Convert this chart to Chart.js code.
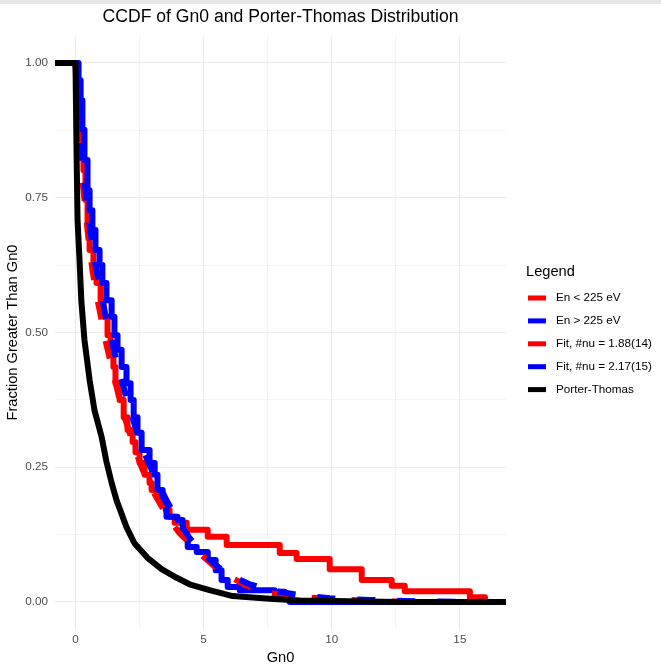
<!DOCTYPE html>
<html lang="en">
<head>
<meta charset="UTF-8">
<script src="https://cdn.jsdelivr.net/npm/chart.js"></script>
<title>CCDF of Gn0</title>
<style>
  body { margin: 0; background: #fff; }
  #wrap { position: relative; width: 661px; height: 667px; }
  #topbar { position: absolute; left: 0; top: 0; width: 661px; height: 4px; background: #e6e6e6; }
</style>
</head>
<body>
<div id="wrap">
  <canvas id="ccdfChart"></canvas>
  <div id="topbar"></div>
</div>
<script>
// values
const titleText = 'CCDF of Gn0 and Porter-Thomas Distribution';
const legendTitle = 'Legend';
const seriesLabels = ['En < 225 eV', 'En > 225 eV', 'Fit, #nu = 1.88(14)', 'Fit, #nu = 2.17(15)', 'Porter-Thomas'];

const redStepX = [-0.9, 0, 0.08, 0.16, 0.23, 0.31, 0.39, 0.47, 0.55, 0.70, 0.82, 0.98, 1.09, 1.25, 1.37, 1.48, 1.56, 1.72, 1.88, 2.03, 2.23, 2.34, 2.50, 2.70, 2.89, 2.97, 3.28, 3.52, 3.67, 3.87, 4.34, 5.16, 5.90, 7.97, 8.63, 9.92, 11.17, 12.34, 12.85, 15.39, 15.98, 16.9];
const redStepY = [1, 1, 0.950, 0.904, 0.857, 0.801, 0.746, 0.699, 0.653, 0.616, 0.592, 0.560, 0.529, 0.495, 0.468, 0.436, 0.406, 0.375, 0.343, 0.319, 0.297, 0.278, 0.258, 0.236, 0.221, 0.208, 0.189, 0.171, 0.158, 0.147, 0.134, 0.121, 0.106, 0.091, 0.080, 0.061, 0.041, 0.030, 0.020, 0.009, 0, 0];

const blueStepX = [-0.9, 0, 0.12, 0.20, 0.27, 0.35, 0.47, 0.55, 0.66, 0.78, 0.94, 1.05, 1.21, 1.41, 1.52, 1.64, 1.80, 1.99, 2.15, 2.27, 2.42, 2.58, 2.89, 3.09, 3.20, 3.40, 3.55, 3.98, 4.18, 4.38, 4.73, 5.16, 5.47, 5.70, 5.94, 6.41, 7.77, 8.16, 8.36, 16.9];
const blueStepY = [1, 1, 0.968, 0.931, 0.876, 0.820, 0.764, 0.727, 0.690, 0.653, 0.625, 0.592, 0.560, 0.529, 0.495, 0.468, 0.436, 0.406, 0.375, 0.343, 0.314, 0.282, 0.258, 0.236, 0.208, 0.180, 0.158, 0.152, 0.124, 0.102, 0.093, 0.078, 0.059, 0.041, 0.028, 0.022, 0.019, 0.009, 0, 0];

const redFitX = [0, 0.04, 0.12, 0.20, 0.27, 0.39, 0.51, 0.66, 0.82, 1.02, 1.21, 1.45, 1.68, 1.95, 2.27, 2.58, 2.89, 3.28, 3.67, 4.06, 4.53, 5.04, 5.55, 6.09, 6.80, 7.58, 8.75, 9.92, 11.48, 13.44, 16.9];
const redFitY = [1, 0.950, 0.894, 0.839, 0.783, 0.727, 0.672, 0.616, 0.570, 0.523, 0.477, 0.430, 0.384, 0.338, 0.291, 0.250, 0.217, 0.184, 0.152, 0.128, 0.106, 0.082, 0.061, 0.045, 0.028, 0.017, 0.009, 0.006, 0.002, 0, 0];

const blueFitX = [0, 0.08, 0.16, 0.27, 0.35, 0.47, 0.63, 0.78, 0.98, 1.17, 1.41, 1.64, 1.91, 2.19, 2.50, 2.81, 3.16, 3.55, 3.98, 4.45, 4.96, 5.51, 6.09, 6.80, 7.58, 8.75, 9.92, 11.48, 13.44, 16.9];
const blueFitY = [1, 0.950, 0.894, 0.839, 0.783, 0.727, 0.672, 0.625, 0.579, 0.532, 0.486, 0.440, 0.393, 0.347, 0.301, 0.263, 0.226, 0.189, 0.152, 0.119, 0.091, 0.067, 0.048, 0.033, 0.022, 0.013, 0.007, 0.004, 0.001, 0];

const ptX = [-0.9, 0, 0.04, 0.08, 0.16, 0.23, 0.35, 0.55, 0.74, 1.02, 1.21, 1.41, 1.60, 1.99, 2.30, 2.81, 3.36, 3.95, 4.45, 5.23, 6.13, 7.58, 8.75, 10.70, 12.66, 16.9];
const ptY = [1, 1, 0.839, 0.709, 0.631, 0.557, 0.486, 0.412, 0.356, 0.306, 0.260, 0.221, 0.189, 0.139, 0.109, 0.082, 0.061, 0.045, 0.033, 0.022, 0.011, 0.006, 0.003, 0.0013, 0, 0];

const xTicks = [0, 2.5, 5, 7.5, 10, 12.5, 15];
const xTickLabels = ['0', '', '5', '', '10', '', '15'];
const yTicks = [0, 0.125, 0.25, 0.375, 0.5, 0.625, 0.75, 0.875, 1];
const yTickLabels = ['0.00', '', '0.25', '', '0.50', '', '0.75', '', '1.00'];

const FONT = '"Liberation Sans", Arial, sans-serif';

function pts(xs, ys) {
    return xs.map((x, i) => ({ x: x, y: ys[i] }));
}

function lineSet(label, xs, ys, color, order, opts) {
    return Object.assign({
        label: label,
        data: pts(xs, ys),
        borderColor: color,
        backgroundColor: color,
        borderWidth: 6,
        pointRadius: 0,
        tension: 0,
        borderCapStyle: 'butt',
        borderJoinStyle: 'round',
        clip: 0,
        order: order
    }, opts || {});
}

// title and legend are drawn by hand so they sit where ggplot put them
const overlay = {
    id: 'overlay',
    afterDraw(chart) {
        const { ctx, chartArea } = chart;
        ctx.save();
        ctx.fillStyle = '#000';
        ctx.textBaseline = 'middle';
        ctx.textAlign = 'center';
        ctx.font = '17.6px ' + FONT;
        ctx.fillText(titleText, (chartArea.left + chartArea.right) / 2, 17);

        ctx.textAlign = 'left';
        ctx.font = '14.67px ' + FONT;
        ctx.fillText(legendTitle, 526, 272);

        ctx.font = '11.7px ' + FONT;
        chart.data.datasets.forEach((ds, i) => {
            const y = 298 + i * 22.9;
            ctx.fillStyle = ds.borderColor;
            ctx.fillRect(528, y - 2.5, 18, 5);
            ctx.fillStyle = '#000';
            ctx.fillText(ds.label, 556, y);
        });
        ctx.restore();
    }
};

const ctx = document.getElementById('ccdfChart').getContext('2d');
const ccdfChart = new Chart(ctx, {
    type: 'line',
    data: {
        datasets: [
            // ECDF steps: each value holds until the next x
            lineSet(seriesLabels[0], redStepX, redStepY, '#ff0000', 4, { stepped: 'before' }),
            lineSet(seriesLabels[1], blueStepX, blueStepY, '#0000ff', 3, { stepped: 'before' }),
            lineSet(seriesLabels[2], redFitX, redFitY, '#ff0000', 2, { borderDash: [18, 22] }),
            lineSet(seriesLabels[3], blueFitX, blueFitY, '#0000ff', 1, { borderDash: [18, 22] }),
            lineSet(seriesLabels[4], ptX, ptY, '#000000', 0)
        ]
    },
    options: {
        responsive: true,
        maintainAspectRatio: false,
        devicePixelRatio: 1,
        animation: false,
        layout: { padding: { top: 36, right: 155, bottom: 0, left: 0 } },
        plugins: {
            legend: { display: false },
            title: { display: false },
            tooltip: { enabled: false }
        },
        scales: {
            x: {
                type: 'linear',
                min: -0.8,
                max: 16.8,
                afterFit: s => { s.height = 38; },
                afterBuildTicks: s => { s.ticks = xTicks.map(v => ({ value: v })); },
                border: { display: false },
                grid: {
                    drawTicks: false,
                    color: '#ebebeb',
                    lineWidth: c => (c.tick && c.tick.value % 5 === 0) ? 1.1 : 0.55
                },
                ticks: {
                    autoSkip: false,
                    maxRotation: 0,
                    padding: 4,
                    color: '#4d4d4d',
                    font: { family: FONT, size: 11.7 },
                    callback: (v, i) => xTickLabels[i]
                },
                title: {
                    display: true,
                    text: 'Gn0',
                    color: '#000',
                    font: { family: FONT, size: 14.67 },
                    padding: { top: 0, bottom: 0 }
                }
            },
            y: {
                type: 'linear',
                min: -0.05,
                max: 1.05,
                afterFit: s => { s.width = 55; },
                afterBuildTicks: s => { s.ticks = yTicks.map(v => ({ value: v })); },
                border: { display: false },
                grid: {
                    drawTicks: false,
                    color: '#ebebeb',
                    lineWidth: c => (c.tick && Math.abs(c.tick.value * 4 - Math.round(c.tick.value * 4)) < 1e-6) ? 1.1 : 0.55
                },
                ticks: {
                    autoSkip: false,
                    padding: 7,
                    color: '#4d4d4d',
                    font: { family: FONT, size: 11.7 },
                    callback: (v, i) => yTickLabels[i]
                },
                title: {
                    display: true,
                    text: 'Fraction Greater Than Gn0',
                    color: '#000',
                    font: { family: FONT, size: 14.67 },
                    padding: { top: 4, bottom: 0 }
                }
            }
        }
    },
    plugins: [overlay]
});
</script>
</body>
</html>
